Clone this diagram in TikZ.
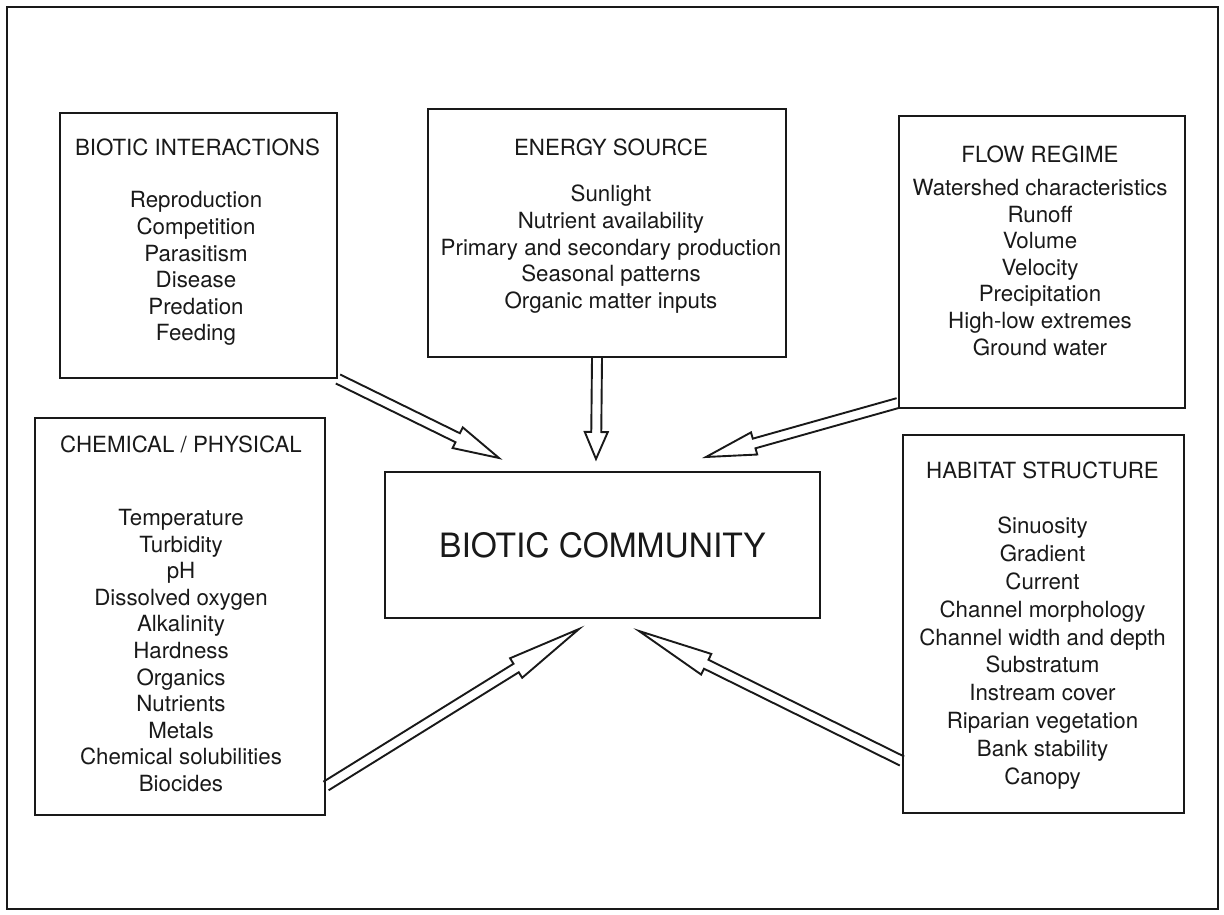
\documentclass[tikz,border=0pt]{standalone}
\usepackage{fontspec}
\setmainfont{TeX Gyre Heros}
\usetikzlibrary{calc,positioning}
\definecolor{ink}{RGB}{25,25,25}

\tikzset{
  factorbox/.style={draw=ink,line width=2pt,inner sep=0pt},
  boxtitle/.style={font=\fontsize{22.3}{26.6}\selectfont,text=ink,anchor=base,inner sep=0pt},
  boxlist/.style={font=\fontsize{22.3}{26.6}\selectfont,text=ink,align=center,anchor=north,inner sep=0pt},
  hollow/.style={draw=ink,line width=1.9pt,line join=miter},
}

\begin{document}
\begin{tikzpicture}[x=1pt,y=-1pt]
\useasboundingbox (0,0) rectangle (1224,915);
\draw[ink,line width=1.3pt] (7,7) rectangle (1218,909);

% the five factor boxes and the community
\node[factorbox,minimum width=277,minimum height=265] (bi) at (198.5,245.5) {};
\node[factorbox,minimum width=358,minimum height=248] (es) at (607,233) {};
\node[factorbox,minimum width=286,minimum height=292] (fr) at (1042,262) {};
\node[factorbox,minimum width=290,minimum height=397] (cp) at (180,616.5) {};
\node[factorbox,minimum width=281,minimum height=378] (hs) at (1043.5,624) {};
\node[factorbox,minimum width=435,minimum height=146,
      font=\fontsize{33.5}{40}\selectfont,text=ink] (bc) at (602.5,545) {BIOTIC COMMUNITY};

\node[boxtitle] (bi-t) at ($(bi.north)+(-1,44)$) {BIOTIC INTERACTIONS};
\node[boxlist] (bi-l) at ($(bi.north)+(-2.5,79.5)$)
  {Reproduction\\Competition\\Parasitism\\Disease\\Predation\\Feeding};

\node[boxtitle] (es-t) at ($(es.north)+(4,47.7)$) {ENERGY SOURCE};
\node[boxlist] (es-l) at ($(es.north)+(4,77)$)
  {Sunlight\\Nutrient availability\\Primary and secondary production\\Seasonal patterns\\Organic matter inputs};

\node[boxtitle] (fr-t) at ($(fr.north)+(-2,47.3)$) {FLOW REGIME};
\node[boxlist] (fr-l) at ($(fr.north)+(-2,64)$)
  {Watershed characteristics\\Runoff\\Volume\\Velocity\\Precipitation\\High-low extremes\\Ground water};

\node[boxtitle] (cp-t) at ($(cp.north)+(1,35.3)$) {CHEMICAL / PHYSICAL};
\node[boxlist] (cp-l) at ($(cp.north)+(1,92)$)
  {Temperature\\Turbidity\\pH\\Dissolved oxygen\\Alkalinity\\Hardness\\Organics\\Nutrients\\Metals\\Chemical solubilities\\Biocides};

\node[boxtitle] (hs-t) at ($(hs.north)+(-1,44.3)$) {HABITAT STRUCTURE};
\node[boxlist,font=\fontsize{22.3}{27.8}\selectfont] (hs-l) at ($(hs.north)+(-1,83)$)
  {Sinuosity\\Gradient\\Current\\Channel morphology\\Channel width and depth\\Substratum\\Instream cover\\Riparian vegetation\\Bank stability\\Canopy};

% arrow tails and tips
\coordinate (s1) at (bi.south east);
\coordinate (s2) at ($(es.south)+(-10,0)$);
\coordinate (s3) at ($(fr.south west)+(0,-6)$);
\coordinate (s4) at ($(cp.south east)+(0,-30)$);
\coordinate (s5) at ($(hs.south west)+(0,-53)$);
\coordinate (t1) at ($(bc.north west)+(115,-13)$);
\coordinate (t2) at ($(bc.north west)+(212,-12)$);
\coordinate (t3) at ($(bc.north west)+(322,-14)$);
\coordinate (t4) at ($(bc.south west)+(195,10)$);
\coordinate (t5) at ($(bc.south west)+(255,12)$);

% hollow arrows
\foreach \a/\b/\hl in {s1/t1/46pt,s2/t2/27pt,s3/t3/50pt,s4/t4/74pt,s5/t5/75pt}{
  \coordinate (h) at ($(\b)!\hl!(\a)$);
  \draw[hollow] ($(\a)!5pt!90:(\b)$) -- ($(h)!5pt!90:(\b)$) -- ($(h)!11.5pt!90:(\b)$)
    -- (\b) -- ($(h)!11.5pt!-90:(\b)$) -- ($(h)!5pt!-90:(\b)$) -- ($(\a)!5pt!-90:(\b)$);
}
\end{tikzpicture}
\end{document}
